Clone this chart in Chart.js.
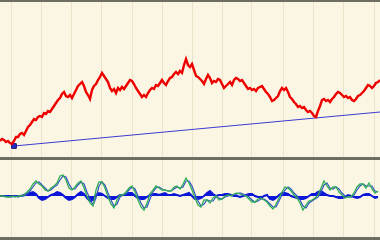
<!DOCTYPE html>
<html>
<head>
<meta charset="utf-8">
<script src="https://cdn.jsdelivr.net/npm/chart.js@4/dist/chart.umd.min.js"></script>
<style>
  body { margin: 0; background: #fbf6e4; }
  #wrap { position: relative; width: 380px; height: 240px; background: #fbf6e4; overflow: hidden; }
  .rule { position: absolute; left: 0; width: 380px; background: #6e6d62; }
  canvas { position: absolute; left: 0; }
</style>
</head>
<body>
<div id="wrap">
  <div class="rule" style="top:0;height:2px"></div>
  <canvas id="priceChart" width="380" height="155" style="top:2px"></canvas>
  <div class="rule" style="top:157px;height:3px"></div>
  <canvas id="oscChart" width="380" height="77" style="top:160px"></canvas>
  <div class="rule" style="top:237px;height:3px"></div>
</div>
<script>
// vertical grid positions (bar index)
var gridX = [11, 41, 71, 101, 132, 162, 192, 222, 252, 283, 313, 343, 374]

// closing price, one value every 2 bars starting at bar 0
var price = [16,18,17,15,16,14,13,16,20,20,
    23,24,22,26,30,32,35,38,37,40,
    41,40,44,43,46,45,48,51,54,57,
    59,63,65,61,60,62,59,63,67,71,
    73,75,71,65,62,58,67,71,73,77,
    80,84,81,78,75,69,66,68,64,69,
    67,70,68,71,74,77,76,73,69,66,
    63,60,62,60,64,67,69,68,72,71,
    74,77,74,72,76,79,80,83,85,83,
    86,84,92,98,92,90,93,87,81,80,
    78,76,73,78,82,79,74,76,75,78,
    77,73,69,71,73,75,72,77,79,78,
    76,77,74,71,68,69,67,68,66,69,
    70,71,68,65,63,60,56,57,59,61,
    66,69,67,69,65,60,58,55,53,50,
    51,49,50,47,45,46,44,41,40,46,
    51,57,58,56,57,55,58,60,63,65,
    64,62,60,61,59,60,57,56,58,61,
    62,64,66,69,72,71,69,71,74,75,
    77]

// support trend line (bar, value)
var trendBars = [14, 380]
var trendValues = [11, 45]

// oscillator, signal and histogram, one value every 3 bars starting at bar 0
var osc = [0,0,-1,-1,0,-1,0,0,1,4,
    7,12,15,12,10,6,5,8,10,13,
    20,21,16,8,6,9,13,15,8,0,
    -7,-10,6,14,14,8,-1,-8,-12,-4,
    1,1,4,8,10,4,-4,-11,-14,-7,
    2,6,10,8,6,6,5,5,9,10,
    7,12,18,13,6,-2,-9,-11,-4,-4,
    -7,-2,0,-4,-3,0,1,0,2,3,
    2,1,0,-3,-6,-6,-3,-2,-4,-6,
    -10,-13,-8,-2,4,9,8,5,1,-2,
    -7,-14,-9,-5,-4,-2,1,8,15,10,
    6,9,9,4,1,-2,-1,-1,3,9,
    12,12,8,13,7,3,5]
var signal = [0,0,0,-1,-1,0,-1,0,0,2,
    5,9,13,14,11,8,5,6,9,11,
    16,20,19,12,7,7,11,14,12,4,
    -3,-9,-2,10,14,11,3,-4,-10,-8,
    -1,1,2,6,9,7,0,-7,-12,-11,
    -3,4,8,9,7,6,5,5,7,9,
    8,9,15,15,10,2,-5,-10,-8,-4,
    -5,-5,-1,-2,-3,-1,0,1,1,2,
    3,2,1,-1,-4,-6,-5,-3,-3,-5,
    -8,-11,-11,-5,1,6,9,7,3,0,
    -4,-10,-12,-7,-5,-3,-1,4,11,13,
    8,7,9,7,3,0,-1,-1,1,6,
    10,12,10,10,10,5,4]
var hist = [0,0,0,0,0,0,0,0,1,2,
    3,4,2,-2,-4,-3,-1,1,2,4,
    3,1,-2,-4,-3,-1,2,4,2,-2,
    -5,-4,1,3,2,0,-2,-3,-3,-1,
    1,1,2,3,3,0,-2,-3,-3,-1,
    1,2,2,1,2,3,1,1,2,1,
    0,1,2,3,0,-3,-3,-2,0,3,
    5,2,0,1,1,2,2,1,0,0,
    -1,0,1,2,2,0,-1,-2,0,1,
    -3,-4,-2,1,3,3,2,0,-1,-2,
    -3,-3,-2,0,2,2,4,5,3,1,
    0,0,-1,-2,-2,-1,1,0,-1,-2,
    -1,1,2,2,0,-2,-1]

function toPoints(values, step){
    return values.map(function(v, i){ return {x: i * step, y: v} })
}

function xScale(){
    return {
        type: 'linear', min: 0, max: 380,
        border: {display: false},
        ticks: {display: false},
        grid: {color: '#ece4ca', lineWidth: 1, drawTicks: false},
        afterBuildTicks: function(axis){
            axis.ticks = gridX.map(function(v){ return {value: v} })
        }
    }
}

var common = {
    responsive: false,
    animation: false,
    layout: {padding: 0, autoPadding: false},
    plugins: {legend: {display: false}, tooltip: {enabled: false}},
    elements: {line: {tension: 0}, point: {radius: 0}}
}

new Chart(document.getElementById('priceChart'), {
    type: 'line',
    data: {
        datasets: [{
            data: toPoints(price, 2),
            borderColor: '#ee0000',
            borderWidth: 2.4
        }, {
            data: trendBars.map(function(b, i){ return {x: b, y: trendValues[i]} }),
            borderColor: '#3b3bd0',
            borderWidth: 1,
            pointStyle: 'rect',
            pointRadius: [3.3, 0],
            pointBackgroundColor: '#2630c8',
            pointBorderColor: '#10107a',
            pointBorderWidth: 1
        }]
    },
    options: Object.assign({}, common, {
        scales: {
            x: xScale(),
            y: {min: 0, max: 155, display: false}
        }
    })
})

new Chart(document.getElementById('oscChart'), {
    type: 'line',
    data: {
        datasets: [{
            data: toPoints(osc, 3),
            borderColor: '#2fae55',
            borderWidth: 1.3
        }, {
            data: toPoints(signal, 3),
            borderColor: '#3050c4',
            borderWidth: 1.2
        }, {
            data: toPoints(hist, 3),
            borderColor: '#0c16d8',
            backgroundColor: '#0c16d8',
            borderWidth: 2,
            fill: 'origin'
        }]
    },
    options: Object.assign({}, common, {
        scales: {
            x: xScale(),
            y: {min: -41, max: 36, display: false}
        }
    })
})
</script>
</body>
</html>
